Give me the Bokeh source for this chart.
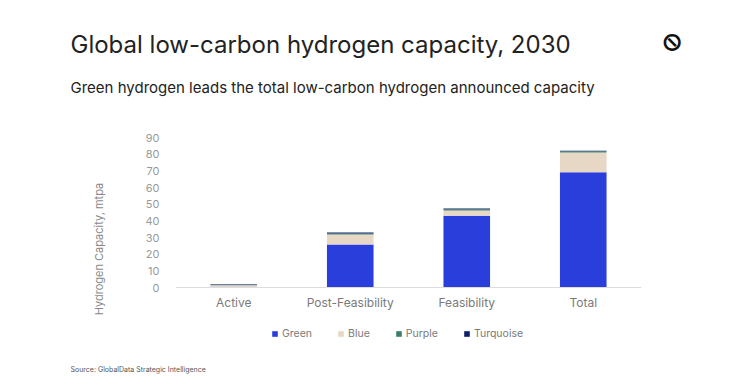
from bokeh.plotting import figure
from bokeh.models import (ColumnDataSource, FactorRange, Range1d, Legend,
                          LegendItem, FixedTicker, Title, Span)
from bokeh.core.properties import value
from bokeh.embed import file_html
from bokeh.resources import INLINE

# ---- data ----
stages = ["Active", "Post-Feasibility", "Feasibility", "Total"]
green = [0.4, 25.8, 43.0, 69.2]
blue = [1.0, 6.0, 3.2, 11.8]
purple = [0.3, 0.6, 0.8, 0.7]
turquoise = [0.2, 0.6, 0.4, 0.4]
series = ["Green", "Blue", "Purple", "Turquoise"]
colors = ["#2a3edc", "#e7d8c5", "#3e7e68", "#0f1e6a"]
y_ticks = [0, 10, 20, 30, 40, 50, 60, 70, 80, 90]

FONT = "Inter"

src = ColumnDataSource(dict(stage=stages, Green=green, Blue=blue,
                            Purple=purple, Turquoise=turquoise))

# frame extends below the zero line so the legend can sit inside it
p = figure(width=731, height=375, frame_width=466, frame_height=223,
           x_range=FactorRange(*stages, range_padding=0),
           y_range=Range1d(-43.8, 90), output_backend="svg", toolbar_location=None,
           x_axis_location=None,
           min_border_left=175, min_border_right=90, min_border_top=137,
           min_border_bottom=0)

rs = p.vbar_stack(series, x="stage", width=0.4, source=src, color=colors,
                  line_color=None)

p.background_fill_color = "white"
p.border_fill_color = "white"
p.outline_line_color = None
p.grid.grid_line_color = None

# baseline (category axis line) at zero
p.add_layout(Span(location=0, dimension="width", line_color="#dcdcdc",
                  line_width=1))

# category labels under the baseline
p.text(x="stage", y=0, text="stage", source=src, y_offset=15,
       text_font=value(FONT), text_font_size="12px", text_color="#7a7a7a",
       text_align="center", text_baseline="middle")

# y axis
p.yaxis.ticker = FixedTicker(ticks=y_ticks)
p.yaxis.axis_line_color = None
p.yaxis.major_tick_line_color = None
p.yaxis.minor_tick_line_color = None
p.yaxis.major_label_text_font = FONT
p.yaxis.major_label_text_font_size = "11px"
p.yaxis.major_label_text_color = "#9a9a9a"
p.yaxis.major_label_standoff = 10
p.yaxis.axis_label = "Hydrogen Capacity, mtpa"
p.yaxis.axis_label_text_font = FONT
p.yaxis.axis_label_text_font_size = "11px"
p.yaxis.axis_label_text_font_style = "normal"
p.yaxis.axis_label_text_color = "#8a8a8a"
p.yaxis.axis_label_standoff = 36

# legend inside the (extended) frame, under the category labels
items = [LegendItem(label=s, renderers=[r]) for s, r in zip(series, rs)]
leg = Legend(items=items, orientation="horizontal", location=(96, 20),
             glyph_width=7, glyph_height=7, label_height=12,
             label_text_font=FONT, label_text_font_size="10.5px",
             label_text_color="#7a7a7a", spacing=25, label_standoff=4,
             border_line_color=None, background_fill_alpha=0,
             padding=0, margin=0)
p.add_layout(leg)

# source line below
src_title = Title(text="Source: GlobalData Strategic Intelligence", align="left",
                  offset=-105, text_font=FONT, text_font_size="7px",
                  text_color="#555555", text_font_style="normal", standoff=4)
p.add_layout(src_title, "below")

# above: spacer, subtitle, title (first added is closest to the frame)
p.add_layout(Title(text=".", text_color="white", text_font_size="1px",
                   standoff=36), "above")
sub = Title(text="Green hydrogen leads the total low-carbon hydrogen announced capacity",
            align="left", offset=-105, text_font=FONT, text_font_size="15px",
            text_color="#222222", text_font_style="normal", standoff=4)
p.add_layout(sub, "above")
main = Title(text="Global low-carbon hydrogen capacity, 2030", align="left",
             offset=-105, text_font=FONT, text_font_size="24px",
             text_color="#222222", text_font_style="normal", standoff=29)
p.add_layout(main, "above")

# logo mark (right panel)
logo = Title(text="\u2298", align="left", offset=-106, text_font="DejaVu Sans",
             text_font_size="26px", text_color="#111111", text_font_style="bold",
             standoff=33)
p.add_layout(logo, "right")

open("out.html", "w").write(file_html(p, INLINE))
